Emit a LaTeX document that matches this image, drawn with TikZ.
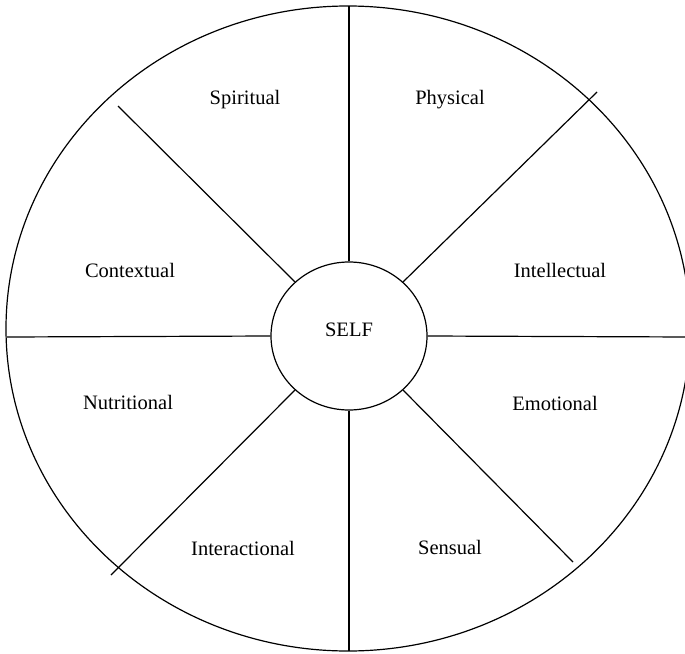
\documentclass[tikz,border=0pt]{standalone}
\usepackage{fontspec}
\setmainfont{Liberation Serif}
\usetikzlibrary{shapes.geometric}
\begin{document}
\begin{tikzpicture}[x=1pt,y=-1pt,
  ln/.style={line width=1.2pt,black},
  lbl/.style={font=\fontsize{20.5}{24}\selectfont,inner sep=0pt}]
\useasboundingbox (0,0) rectangle (685,653);
\clip (0,0) rectangle (685,653);
\fill[white] (0,0) rectangle (685,653);
% outer ellipse
\draw[ln] (348,328.5) ellipse [x radius=342pt, y radius=322.5pt];
% centre
\node[ln,draw,ellipse,minimum width=156pt,minimum height=148pt,inner sep=0pt] (self) at (349,336) {};
\node[lbl] (selft) at (349,330) {SELF};
% outer ends
\coordinate (top) at (349,6);
\coordinate (bot) at (349,651);
\coordinate (lft) at (7,337);
\coordinate (rgt) at (690,337);
\coordinate (ul) at (118,106);
\coordinate (ur) at (597,92);
\coordinate (ll) at (111,575);
\coordinate (lr) at (573,562);
\draw[ln] (self.90) -- (top);
\draw[ln] (self.270) -- (bot);
\draw[ln] (self.180) -- (lft);
\draw[ln] (self.0) -- (rgt);
\draw[ln] (self.135) -- (ul);
\draw[ln] (self.45) -- (ur);
\draw[ln] (self.225) -- (ll);
\draw[ln] (self.315) -- (lr);
% labels
\node[lbl] (spi) at (245,100) {Spiritual};
\node[lbl] (phy) at (450,100) {Physical};
\node[lbl] (con) at (130,270) {Contextual};
\node[lbl] (int) at (560,270) {Intellectual};
\node[lbl] (nut) at (128,402) {Nutritional};
\node[lbl] (emo) at (555,403) {Emotional};
\node[lbl] (ita) at (243,548) {Interactional};
\node[lbl] (sen) at (450,547) {Sensual};
\end{tikzpicture}
\end{document}
